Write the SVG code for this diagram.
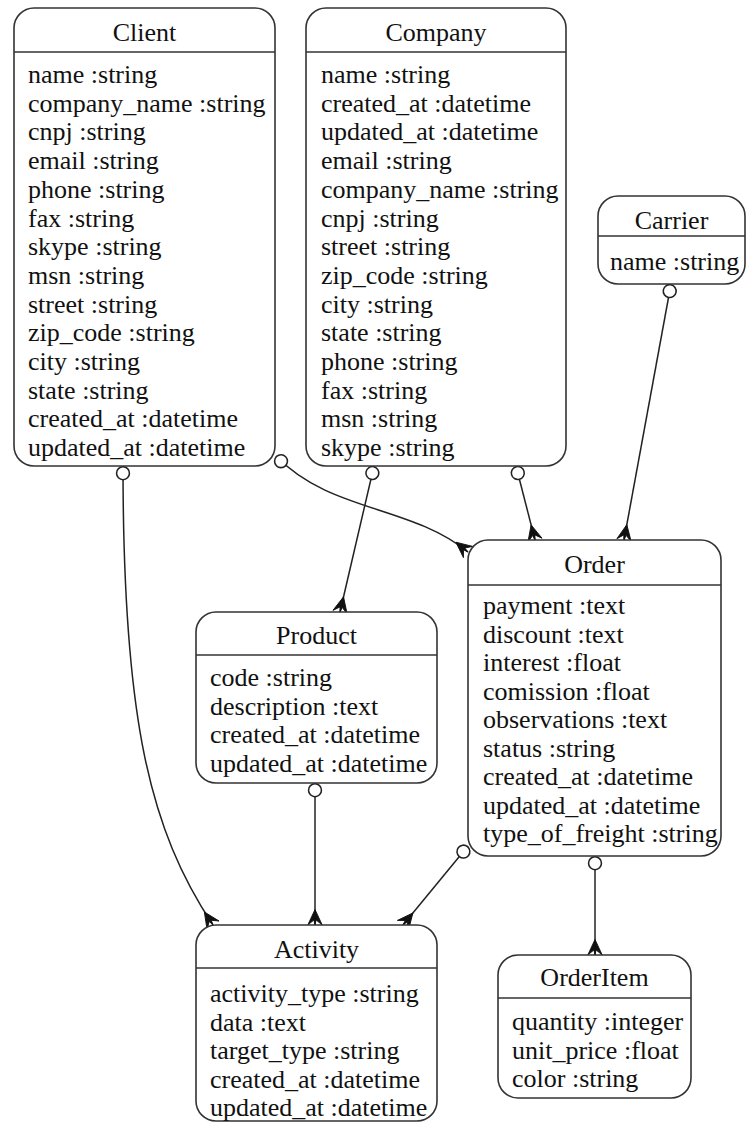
<svg xmlns="http://www.w3.org/2000/svg" width="747" height="1124" viewBox="0 0 747 1124">
<style>
.box{fill:#fff;stroke:#333;stroke-width:1.6}
.div{stroke:#333;stroke-width:1.6}
text{font-family:"Liberation Serif","Times New Roman",serif;font-size:26px;fill:#111}
.t{text-anchor:middle}
.e{fill:none;stroke:#222;stroke-width:1.5;marker-start:url(#odot);marker-end:url(#crow)}
</style>
<defs>
<marker id="odot" markerUnits="userSpaceOnUse" orient="auto" markerWidth="20" markerHeight="20" viewBox="-2 -8 18 16" refX="0" refY="0">
<circle cx="6.5" cy="0" r="5.8" fill="#fff" stroke="#222" stroke-width="1.4"/>
</marker>
<marker id="crow" markerUnits="userSpaceOnUse" orient="auto" markerWidth="20" markerHeight="20" viewBox="-16 -8 18 16" refX="0" refY="0">
<path d="M-14,0 L0,-6.5 L-4.5,-1 L0,0 L-4.5,1 L0,6.5 Z" fill="#111" stroke="#111" stroke-width="0.8"/>
</marker>
</defs>
<g id="connectors">
<path class="e" d="M123,466 C123,720 150,830 213,925"/>
<path class="e" d="M276,456 C330,512 410,505 468,552"/>
<path class="e" d="M374,466 L340,612"/>
<path class="e" d="M516,466 L535,540"/>
<path class="e" d="M671,284 L624,540"/>
<path class="e" d="M315,783 L315,925"/>
<path class="e" d="M468,846 L403,925"/>
<path class="e" d="M595,856 L595,955"/>
</g>
<g id="Client">
<rect class="box" x="14" y="8" width="261" height="458" rx="20"/>
<line class="div" x1="14" y1="52" x2="275" y2="52"/>
<text class="t" x="144.5" y="41">Client</text>
<text x="28" y="83">name :string</text>
<text x="28" y="111.7">company_name :string</text>
<text x="28" y="140.4">cnpj :string</text>
<text x="28" y="169.1">email :string</text>
<text x="28" y="197.8">phone :string</text>
<text x="28" y="226.5">fax :string</text>
<text x="28" y="255.2">skype :string</text>
<text x="28" y="283.9">msn :string</text>
<text x="28" y="312.6">street :string</text>
<text x="28" y="341.3">zip_code :string</text>
<text x="28" y="370">city :string</text>
<text x="28" y="398.7">state :string</text>
<text x="28" y="427.4">created_at :datetime</text>
<text x="28" y="456.1">updated_at :datetime</text>
</g>
<g id="Company">
<rect class="box" x="306" y="8" width="260" height="458" rx="20"/>
<line class="div" x1="306" y1="52" x2="566" y2="52"/>
<text class="t" x="436" y="41">Company</text>
<text x="321" y="83">name :string</text>
<text x="321" y="111.7">created_at :datetime</text>
<text x="321" y="140.4">updated_at :datetime</text>
<text x="321" y="169.1">email :string</text>
<text x="321" y="197.8">company_name :string</text>
<text x="321" y="226.5">cnpj :string</text>
<text x="321" y="255.2">street :string</text>
<text x="321" y="283.9">zip_code :string</text>
<text x="321" y="312.6">city :string</text>
<text x="321" y="341.3">state :string</text>
<text x="321" y="370">phone :string</text>
<text x="321" y="398.7">fax :string</text>
<text x="321" y="427.4">msn :string</text>
<text x="321" y="456.1">skype :string</text>
</g>
<g id="Carrier">
<rect class="box" x="598" y="196" width="147" height="88" rx="20"/>
<line class="div" x1="598" y1="236" x2="745" y2="236"/>
<text class="t" x="671.5" y="229">Carrier</text>
<text x="610" y="270">name :string</text>
</g>
<g id="Order">
<rect class="box" x="468" y="540" width="253" height="316" rx="20"/>
<line class="div" x1="468" y1="585" x2="721" y2="585"/>
<text class="t" x="594.5" y="573">Order</text>
<text x="483" y="614">payment :text</text>
<text x="483" y="642.5">discount :text</text>
<text x="483" y="671">interest :float</text>
<text x="483" y="699.5">comission :float</text>
<text x="483" y="728">observations :text</text>
<text x="483" y="756.5">status :string</text>
<text x="483" y="785">created_at :datetime</text>
<text x="483" y="813.5">updated_at :datetime</text>
<text x="483" y="842">type_of_freight :string</text>
</g>
<g id="Product">
<rect class="box" x="196" y="612" width="241" height="171" rx="20"/>
<line class="div" x1="196" y1="655" x2="437" y2="655"/>
<text class="t" x="316.5" y="644">Product</text>
<text x="210" y="686">code :string</text>
<text x="210" y="714.5">description :text</text>
<text x="210" y="743">created_at :datetime</text>
<text x="210" y="771.5">updated_at :datetime</text>
</g>
<g id="Activity">
<rect class="box" x="196" y="925" width="241" height="196" rx="20"/>
<line class="div" x1="196" y1="968" x2="437" y2="968"/>
<text class="t" x="316.5" y="958">Activity</text>
<text x="210" y="1002">activity_type :string</text>
<text x="210" y="1030.5">data :text</text>
<text x="210" y="1059">target_type :string</text>
<text x="210" y="1087.5">created_at :datetime</text>
<text x="210" y="1116">updated_at :datetime</text>
</g>
<g id="OrderItem">
<rect class="box" x="498" y="955" width="193" height="143" rx="20"/>
<line class="div" x1="498" y1="998" x2="691" y2="998"/>
<text class="t" x="594.5" y="986">OrderItem</text>
<text x="512" y="1030">quantity :integer</text>
<text x="512" y="1058.5">unit_price :float</text>
<text x="512" y="1087">color :string</text>
</g>
</svg>
